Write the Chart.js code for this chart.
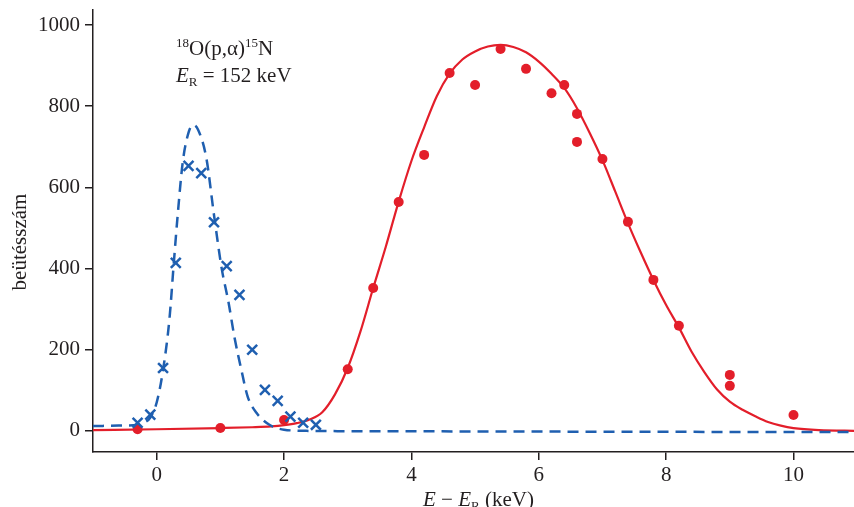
<!DOCTYPE html>
<html>
<head>
<meta charset="utf-8">
<script src="https://cdn.jsdelivr.net/npm/chart.js@4"></script>
<style>
  html, body { margin: 0; padding: 0; background: #fff; }
  #wrap { width: 854px; height: 507px; }
</style>
</head>
<body>
<div id="wrap"><canvas id="chart" width="854" height="507"></canvas></div>
<script>
// measured points, 18O(p,a)15N resonance
const redX = [-0.3, 1.0, 2.0, 3.0, 3.4, 3.8, 4.2, 4.6, 5.0, 5.4, 5.8, 6.2, 6.4, 6.6, 6.6, 7.0, 7.4, 7.8, 8.2, 9.0, 9.0, 10.0];
const redY = [4, 7, 27, 152, 352, 564, 680, 882, 852, 941, 892, 832, 852, 781, 712, 670, 515, 372, 259, 138, 111, 39];

const blueX = [-0.3, -0.1, 0.1, 0.3, 0.5, 0.7, 0.9, 1.1, 1.3, 1.5, 1.7, 1.9, 2.1, 2.3, 2.5];
const blueY = [20, 40, 155, 414, 653, 635, 514, 406, 335, 200, 101, 74, 35, 20, 15];

// fitted curves
const redCurveX = [-1.0, 0.0, 1.0, 1.5, 1.8, 2.0, 2.2, 2.4, 2.6, 2.8, 3.0, 3.2, 3.4, 3.6, 3.8, 4.0, 4.2, 4.4, 4.6, 4.8, 5.0, 5.2, 5.4, 5.6, 5.8, 6.0, 6.2, 6.4, 6.6, 6.8, 7.0, 7.2, 7.4, 7.6, 7.8, 8.0, 8.2, 8.4, 8.6, 8.8, 9.0, 9.2, 9.4, 9.6, 9.8, 10.0, 10.4, 11.0];
const redCurveY = [2, 4, 7, 9, 11, 14, 19, 28, 46, 90, 155, 245, 352, 455, 565, 665, 748, 825, 880, 915, 935, 947, 951, 946, 933, 910, 880, 845, 795, 734, 667, 590, 512, 440, 372, 310, 255, 195, 145, 102, 72, 52, 36, 22, 13, 7, 2, 0];

const blueCurveX = [-1.0, -0.6, -0.3, -0.2, -0.1, 0.0, 0.1, 0.2, 0.27, 0.33, 0.41, 0.5, 0.57, 0.65, 0.78, 0.9, 1.02, 1.13, 1.22, 1.33, 1.43, 1.57, 1.77, 2.0, 2.4, 4.0, 7.0, 11.0];
const blueCurveY = [12, 13, 15, 20, 33, 70, 150, 275, 416, 532, 663, 735, 754, 742, 672, 532, 401, 315, 232, 150, 84, 44, 15, 3, 0, -1, -2, -3];

const xTicks = [0, 2, 4, 6, 8, 10];
const yTicks = [0, 200, 400, 600, 800, 1000];

const RED = '#e31e2a';
const BLUE = '#1f5fb0';
const AXIS = '#231f20';
const FONT = '"Liberation Serif", "DejaVu Serif", serif';

function pts(xs, ys) {
    return xs.map((x, i) => ({ x: x, y: ys[i] }));
}

// draws mixed-style text pieces one after another
function drawRuns(ctx, x, y, runs) {
    runs.forEach(r => {
        ctx.font = (r.italic ? 'italic ' : '') + r.size + 'px ' + FONT;
        ctx.fillText(r.text, x, y - (r.dy || 0));
        x += ctx.measureText(r.text).width;
    });
}

const labelsPlugin = {
    id: 'labels',
    afterDraw(chart) {
        const ctx = chart.ctx;
        ctx.save();
        ctx.fillStyle = AXIS;
        ctx.textBaseline = 'alphabetic';
        ctx.textAlign = 'left';

        drawRuns(ctx, 176, 55, [
            { text: '18', size: 13, dy: 8 },
            { text: 'O(p,α)', size: 21 },
            { text: '15', size: 13, dy: 8 },
            { text: 'N', size: 21 }
        ]);
        drawRuns(ctx, 176, 82, [
            { text: 'E', size: 21, italic: true },
            { text: 'R', size: 13, dy: -4 },
            { text: ' = 152 keV', size: 21 }
        ]);

        drawRuns(ctx, 423, 506, [
            { text: 'E', size: 21, italic: true },
            { text: ' − ', size: 21 },
            { text: 'E', size: 21, italic: true },
            { text: 'R', size: 13, dy: -4 },
            { text: ' (keV)', size: 21 }
        ]);

        ctx.translate(26, 242);
        ctx.rotate(-Math.PI / 2);
        ctx.textAlign = 'center';
        ctx.font = '21px ' + FONT;
        ctx.fillText('beütésszám', 0, 0);
        ctx.restore();
    }
};

new Chart(document.getElementById('chart'), {
    type: 'scatter',
    data: {
        datasets: [
            {
                label: 'blue points',
                data: pts(blueX, blueY),
                pointStyle: 'crossRot',
                pointRadius: 7,
                borderColor: BLUE,
                borderWidth: 2.5,
                order: 0
            },
            {
                label: 'red points',
                data: pts(redX, redY),
                pointStyle: 'circle',
                pointRadius: 5,
                backgroundColor: RED,
                borderColor: RED,
                borderWidth: 0,
                order: 1
            },
            {
                label: 'blue fit',
                data: pts(blueCurveX, blueCurveY),
                showLine: true,
                pointRadius: 0,
                borderColor: BLUE,
                borderWidth: 2.5,
                borderDash: [11, 7],
                cubicInterpolationMode: 'monotone',
                order: 2
            },
            {
                label: 'red fit',
                data: pts(redCurveX, redCurveY),
                showLine: true,
                pointRadius: 0,
                borderColor: RED,
                borderWidth: 2.2,
                cubicInterpolationMode: 'monotone',
                order: 3
            }
        ]
    },
    options: {
        responsive: false,
        animation: false,
        layout: { autoPadding: false, padding: { top: 10, right: 0, left: 0, bottom: 0 } },
        plugins: {
            legend: { display: false },
            tooltip: { enabled: false }
        },
        scales: {
            x: {
                type: 'linear',
                min: -1,
                max: 10.95,
                afterBuildTicks: s => { s.ticks = xTicks.map(v => ({ value: v })); },
                afterFit: s => { s.height = 55; s.paddingLeft = 0; s.paddingRight = 0; },
                border: { color: AXIS, width: 1.5 },
                grid: { drawOnChartArea: false, color: AXIS, lineWidth: 1.5, tickLength: 8 },
                ticks: { color: AXIS, padding: 3, font: { family: FONT, size: 21 }, callback: v => String(v) }
            },
            y: {
                type: 'linear',
                min: -52,
                max: 1037,
                afterBuildTicks: s => { s.ticks = yTicks.map(v => ({ value: v })); },
                afterFit: s => { s.width = 93; s.paddingTop = 0; s.paddingBottom = 0; },
                border: { color: AXIS, width: 1.5 },
                grid: { drawOnChartArea: false, color: AXIS, lineWidth: 1.5, tickLength: 8 },
                ticks: { color: AXIS, padding: 5, font: { family: FONT, size: 21 }, callback: v => String(v) }
            }
        }
    },
    plugins: [labelsPlugin]
});
</script>
</body>
</html>
